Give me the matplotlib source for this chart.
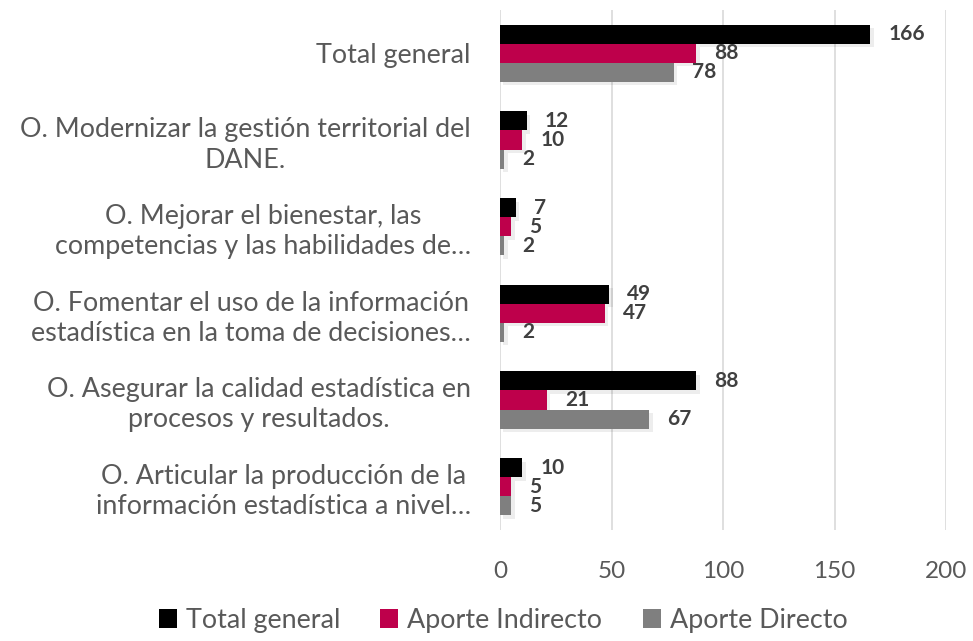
import numpy as np
import matplotlib.pyplot as plt
import matplotlib.patheffects as pe

# datos
categorias = [
    'Total general',
    'O. Modernizar la gestión territorial del\nDANE.',
    'O. Mejorar el bienestar, las\ncompetencias y las habilidades de…',
    'O. Fomentar el uso de la información\nestadística en la toma de decisiones…',
    'O. Asegurar la calidad estadística en\nprocesos y resultados.',
    'O. Articular la producción de la\ninformación estadística a nivel…',
]
total_general = [166, 12, 7, 49, 88, 10]
aporte_indirecto = [88, 10, 5, 47, 21, 5]
aporte_directo = [78, 2, 2, 2, 67, 5]

series = [
    ('Total general', total_general, '#000000'),
    ('Aporte Indirecto', aporte_indirecto, '#BE004B'),
    ('Aporte Directo', aporte_directo, '#7F7F7F'),
]

plt.rcParams['font.family'] = ['Lato', 'DejaVu Sans']

fig = plt.figure(figsize=(9.73, 6.41), dpi=100)
ax = fig.add_axes([500 / 973, 1 - 530 / 641, 446 / 973, 520 / 641])

y = np.arange(len(categorias))
h = 0.22
todas = []

for i, (nombre, vals, color) in enumerate(series):
    pos = y + (i - 1) * h
    barras = ax.barh(pos, vals, height=h, color=color, label=nombre, zorder=3)
    todas.extend(barras)
    for p, v in zip(pos, vals):
        ax.annotate(str(v), (v, p), xytext=(13, 0), textcoords='offset points',
                    va='center', ha='left', fontsize=15, fontweight='bold',
                    color='#404040', zorder=4)

ax.set_ylim(len(categorias) - 0.5, -0.5)
ax.set_xlim(0, 200)
ax.set_xticks([0, 50, 100, 150, 200])
ax.set_yticks(y)
ax.set_yticklabels(categorias, fontsize=19.4, color='#595959', ha='right',
                   multialignment='center', linespacing=1.25)
ax.tick_params(axis='x', labelsize=17.5, labelcolor='#595959', length=0, pad=22)
ax.tick_params(axis='y', length=0, pad=21)
ax.grid(axis='x', color='#D9D9D9', linewidth=1.2, zorder=0)
for s in ax.spines.values():
    s.set_visible(False)

fig.legend(loc='center', bbox_to_anchor=(0.517, 0.032), ncol=3, frameon=False,
           fontsize=19.4, labelcolor='#595959', handlelength=0.67, handleheight=0.67,
           handletextpad=0.33, columnspacing=1.5, borderpad=0.1)

# sombra suave de las barras (despues de la leyenda)
sombra = [pe.SimplePatchShadow(offset=(2.5, -2.5), alpha=0.07, shadow_rgbFace='k'), pe.Normal()]
for b in todas:
    b.set_path_effects(sombra)

fig.savefig('out.png', dpi=100)
